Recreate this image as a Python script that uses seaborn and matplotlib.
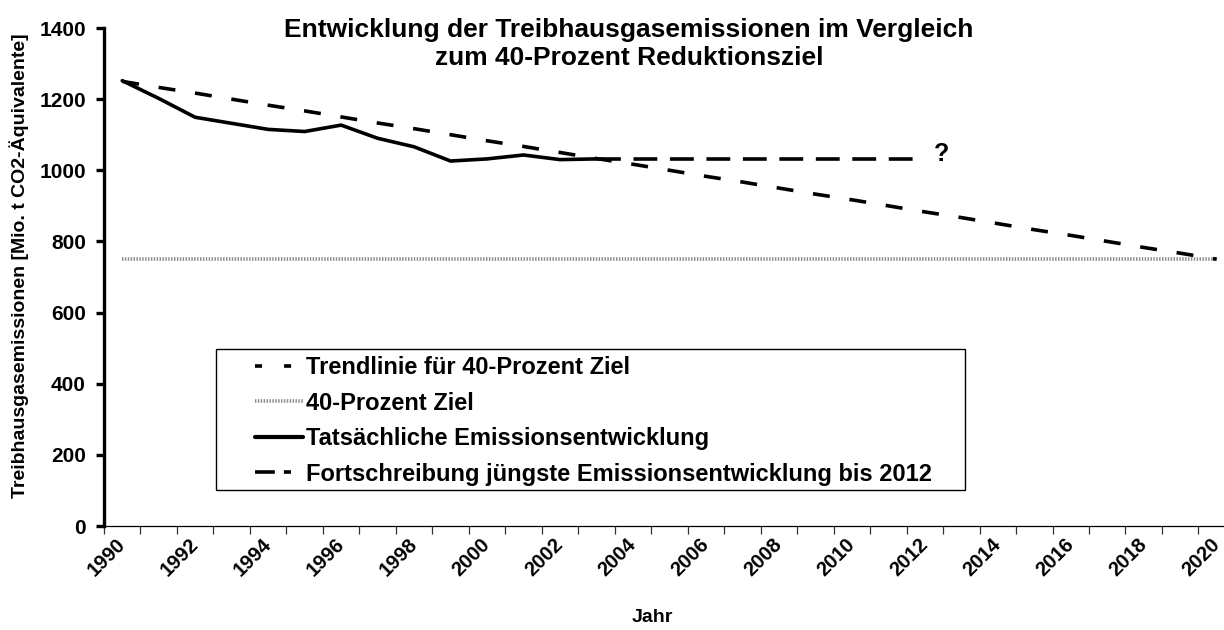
import matplotlib
matplotlib.use("Agg")
import matplotlib.pyplot as plt
from matplotlib.patches import Rectangle
import seaborn as sns

# data (Mio. t CO2-Aequivalente)
years = list(range(1990, 2021))
trend = [1250, 1233, 1217, 1200, 1183, 1167, 1150, 1133, 1117, 1100, 1083,
         1067, 1050, 1033, 1017, 1000, 983, 967, 950, 933, 917, 900, 883,
         867, 850, 833, 817, 800, 783, 767, 750]
target = [750] * len(years)
actual_years = list(range(1990, 2004))
actual = [1252, 1202, 1149, 1132, 1115, 1109, 1127, 1090, 1066, 1026,
          1032, 1043, 1030, 1032]
proj_years = list(range(2003, 2013))
proj = [1032] * len(proj_years)

labels = ["Trendlinie für 40-Prozent Ziel", "40-Prozent Ziel",
          "Tatsächliche Emissionsentwicklung",
          "Fortschreibung jüngste Emissionsentwicklung bis 2012"]

sns.set_style("ticks")
plt.rcParams["font.family"] = ["Liberation Sans", "DejaVu Sans"]
plt.rcParams["font.weight"] = "bold"
for k in ["text.color", "axes.labelcolor", "xtick.color", "ytick.color", "axes.edgecolor"]:
    plt.rcParams[k] = "black"

W, H = 1224, 630
fig = plt.figure(figsize=(W / 100, H / 100), dpi=100)
ax = fig.add_axes([104 / W, 104 / H, 1120 / W, 498 / H])

sns.lineplot(x=years, y=target, ax=ax, color="#8c8c8c", linewidth=2.6,
             linestyle=(0, (0.4, 0.4)), label=labels[1])
sns.lineplot(x=years, y=trend, ax=ax, color="black", linewidth=2.6,
             linestyle=(0, (4.7, 5.5)), label=labels[0])
sns.lineplot(x=actual_years, y=actual, ax=ax, color="black", linewidth=2.6,
             label=labels[2])
sns.lineplot(x=proj_years, y=proj, ax=ax, color="black", linewidth=2.6,
             linestyle=(0, (6.6, 3.5)), label=labels[3])
ax.text(2012.25, 1045, "?", fontsize=18, fontweight="bold", ha="left", va="center")

ax.set_xlim(1989.5, 2020.2)
ax.set_ylim(0, 1400)
ax.set_yticks(range(0, 1401, 200))
ax.set_xticks(range(1990, 2021, 2))
ax.set_xticks([y - 0.5 for y in years], minor=True)
ax.tick_params(axis="x", which="major", length=0, pad=11, labelsize=14.5)
ax.tick_params(axis="x", which="minor", length=6, width=0.9, color="#333333")
ax.tick_params(axis="y", length=6, width=2.4, pad=7, labelsize=15)
for lab in ax.get_xticklabels():
    lab.set_rotation(45)
    lab.set_ha("right")
    lab.set_va("center")
    lab.set_rotation_mode("anchor")
    lab.set_fontweight("bold")
for lab in ax.get_yticklabels():
    lab.set_fontweight("bold")

sns.despine(ax=ax)
ax.spines["left"].set_linewidth(2.4)
ax.spines["bottom"].set_linewidth(0.9)
ax.set_xlabel("")
ax.set_ylabel("")
fig.text(19 / W, 1 - 266 / H, "Treibhausgasemissionen [Mio. t CO2-Äquivalente]",
         rotation=90, ha="center", va="center", fontsize=14, fontweight="bold")

fig.text(629 / W, 1 - 44 / H,
         "Entwicklung der Treibhausgasemissionen im Vergleich\nzum 40-Prozent Reduktionsziel",
         ha="center", va="center", fontsize=19, fontweight="bold", linespacing=1.25)
fig.text(652 / W, 1 - 617 / H, "Jahr", ha="center", va="center",
         fontsize=14, fontweight="bold")

# legend frame and entries
ax.add_patch(Rectangle((216 / W, 1 - 490 / H), (965 - 216) / W, (490 - 349) / H,
                       transform=fig.transFigure, facecolor="white",
                       edgecolor="black", linewidth=1.0, zorder=4, clip_on=False))
handles, labs = ax.get_legend_handles_labels()
order = [labs.index(l) for l in labels]
leg = ax.legend([handles[i] for i in order], [labs[i] for i in order],
                loc="upper left", bbox_to_anchor=(255 / W, 1 - 356 / H),
                bbox_transform=fig.transFigure, frameon=False,
                prop={"weight": "bold", "size": 17}, handlelength=2.05,
                handletextpad=0.13, labelspacing=0.53, borderpad=0,
                borderaxespad=0)
leg.set_zorder(6)
leg_lines = leg.get_lines()
leg_lines[0].set_dashes((1.95, 6.1))
leg_lines[3].set_dashes((5.5, 2.5, 1.95, 6.0))
leg_lines[2].set_linewidth(3.0)

fig.savefig("out.png", dpi=100)
